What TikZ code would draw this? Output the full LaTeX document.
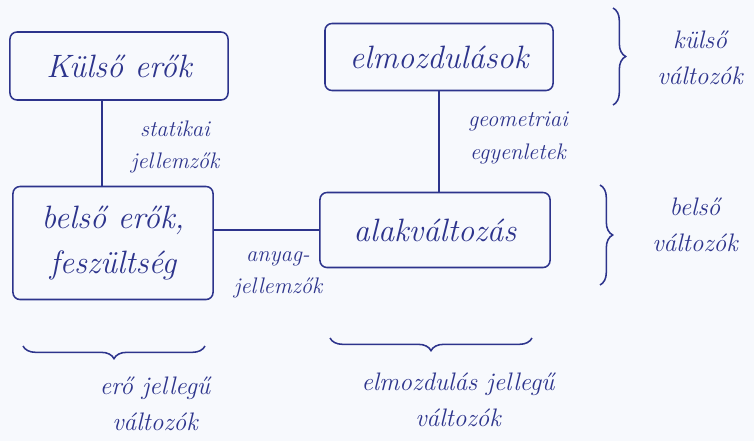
\documentclass[tikz,border=0pt]{standalone}
\usepackage{tikz}
\usetikzlibrary{decorations.pathreplacing}
\definecolor{ink}{RGB}{45,52,140}
\definecolor{paper}{RGB}{247,249,253}

\begin{document}
\begin{tikzpicture}[x=0.025cm, y=-0.025cm,
        valtbox/.style={draw=ink, line width=1.1pt, rounded corners=5pt, text=ink,
            font=\fontsize{23}{32}\selectfont\itshape, align=center, inner sep=0pt},
        jlabel/.style={text=ink, font=\fontsize{16}{23}\selectfont\itshape, align=center},
        vlabel/.style={text=ink, font=\fontsize{18}{26}\selectfont\itshape, align=center},
        kapocs/.style={decorate, decoration={brace, amplitude=9pt}, draw=ink, line width=1.1pt}]
            % Paper
            \fill[paper] (0,0) rectangle (754,441);
            \useasboundingbox (0,0) rectangle (754,441);
            
            % External variables
            \node[valtbox, minimum width=5.45cm, minimum height=1.7cm] (kulso) at (119,66) {Külső erők};
            \node[valtbox, minimum width=5.7cm, minimum height=1.675cm] (elmoz) at (439,57) {elmozdulások};
            
            % Internal variables
            \node[valtbox, minimum width=5cm, minimum height=2.825cm] (belso) at (113,243) {belső erők,\\feszültség};
            \node[valtbox, minimum width=5.75cm, minimum height=1.875cm] (alak) at (435,230) {alakváltozás};
            
            % Equations between them
            \coordinate (k1) at ([xshift=-0.42cm]kulso.south);
            \draw[ink, line width=1.1pt] (k1) -- (k1 |- belso.north);
            \node[jlabel] (stat) at (175,147) {statikai\\jellemzők};
            
            \draw[ink, line width=1.1pt] (elmoz.south) -- (elmoz.south |- alak.north);
            \node[jlabel] (geom) at (518,138) {geometriai\\egyenletek};
            
            \draw[ink, line width=1.1pt] (alak.west -| belso.east) -- (alak.west);
            \node[jlabel] (anyag) at (278,275) {anyag-\\jellemzők};
            
            % Braces, right
            \draw[kapocs] (613,8) -- (613,105);
            \node[vlabel] (kv) at (700,58) {külső\\változók};
            \draw[kapocs] (600,185) -- (600,285);
            \node[vlabel] (bv) at (695,225) {belső\\változók};
            
            % Braces, bottom
            \draw[kapocs] (205,346) -- (23,346);
            \node[vlabel] (ev) at (155,404) {erő jellegű\\változók};
            \draw[kapocs] (532,338) -- (330,338);
            \node[vlabel] (mv) at (458,400) {elmozdulás jellegű\\változók};
        \end{tikzpicture}
\end{document}
